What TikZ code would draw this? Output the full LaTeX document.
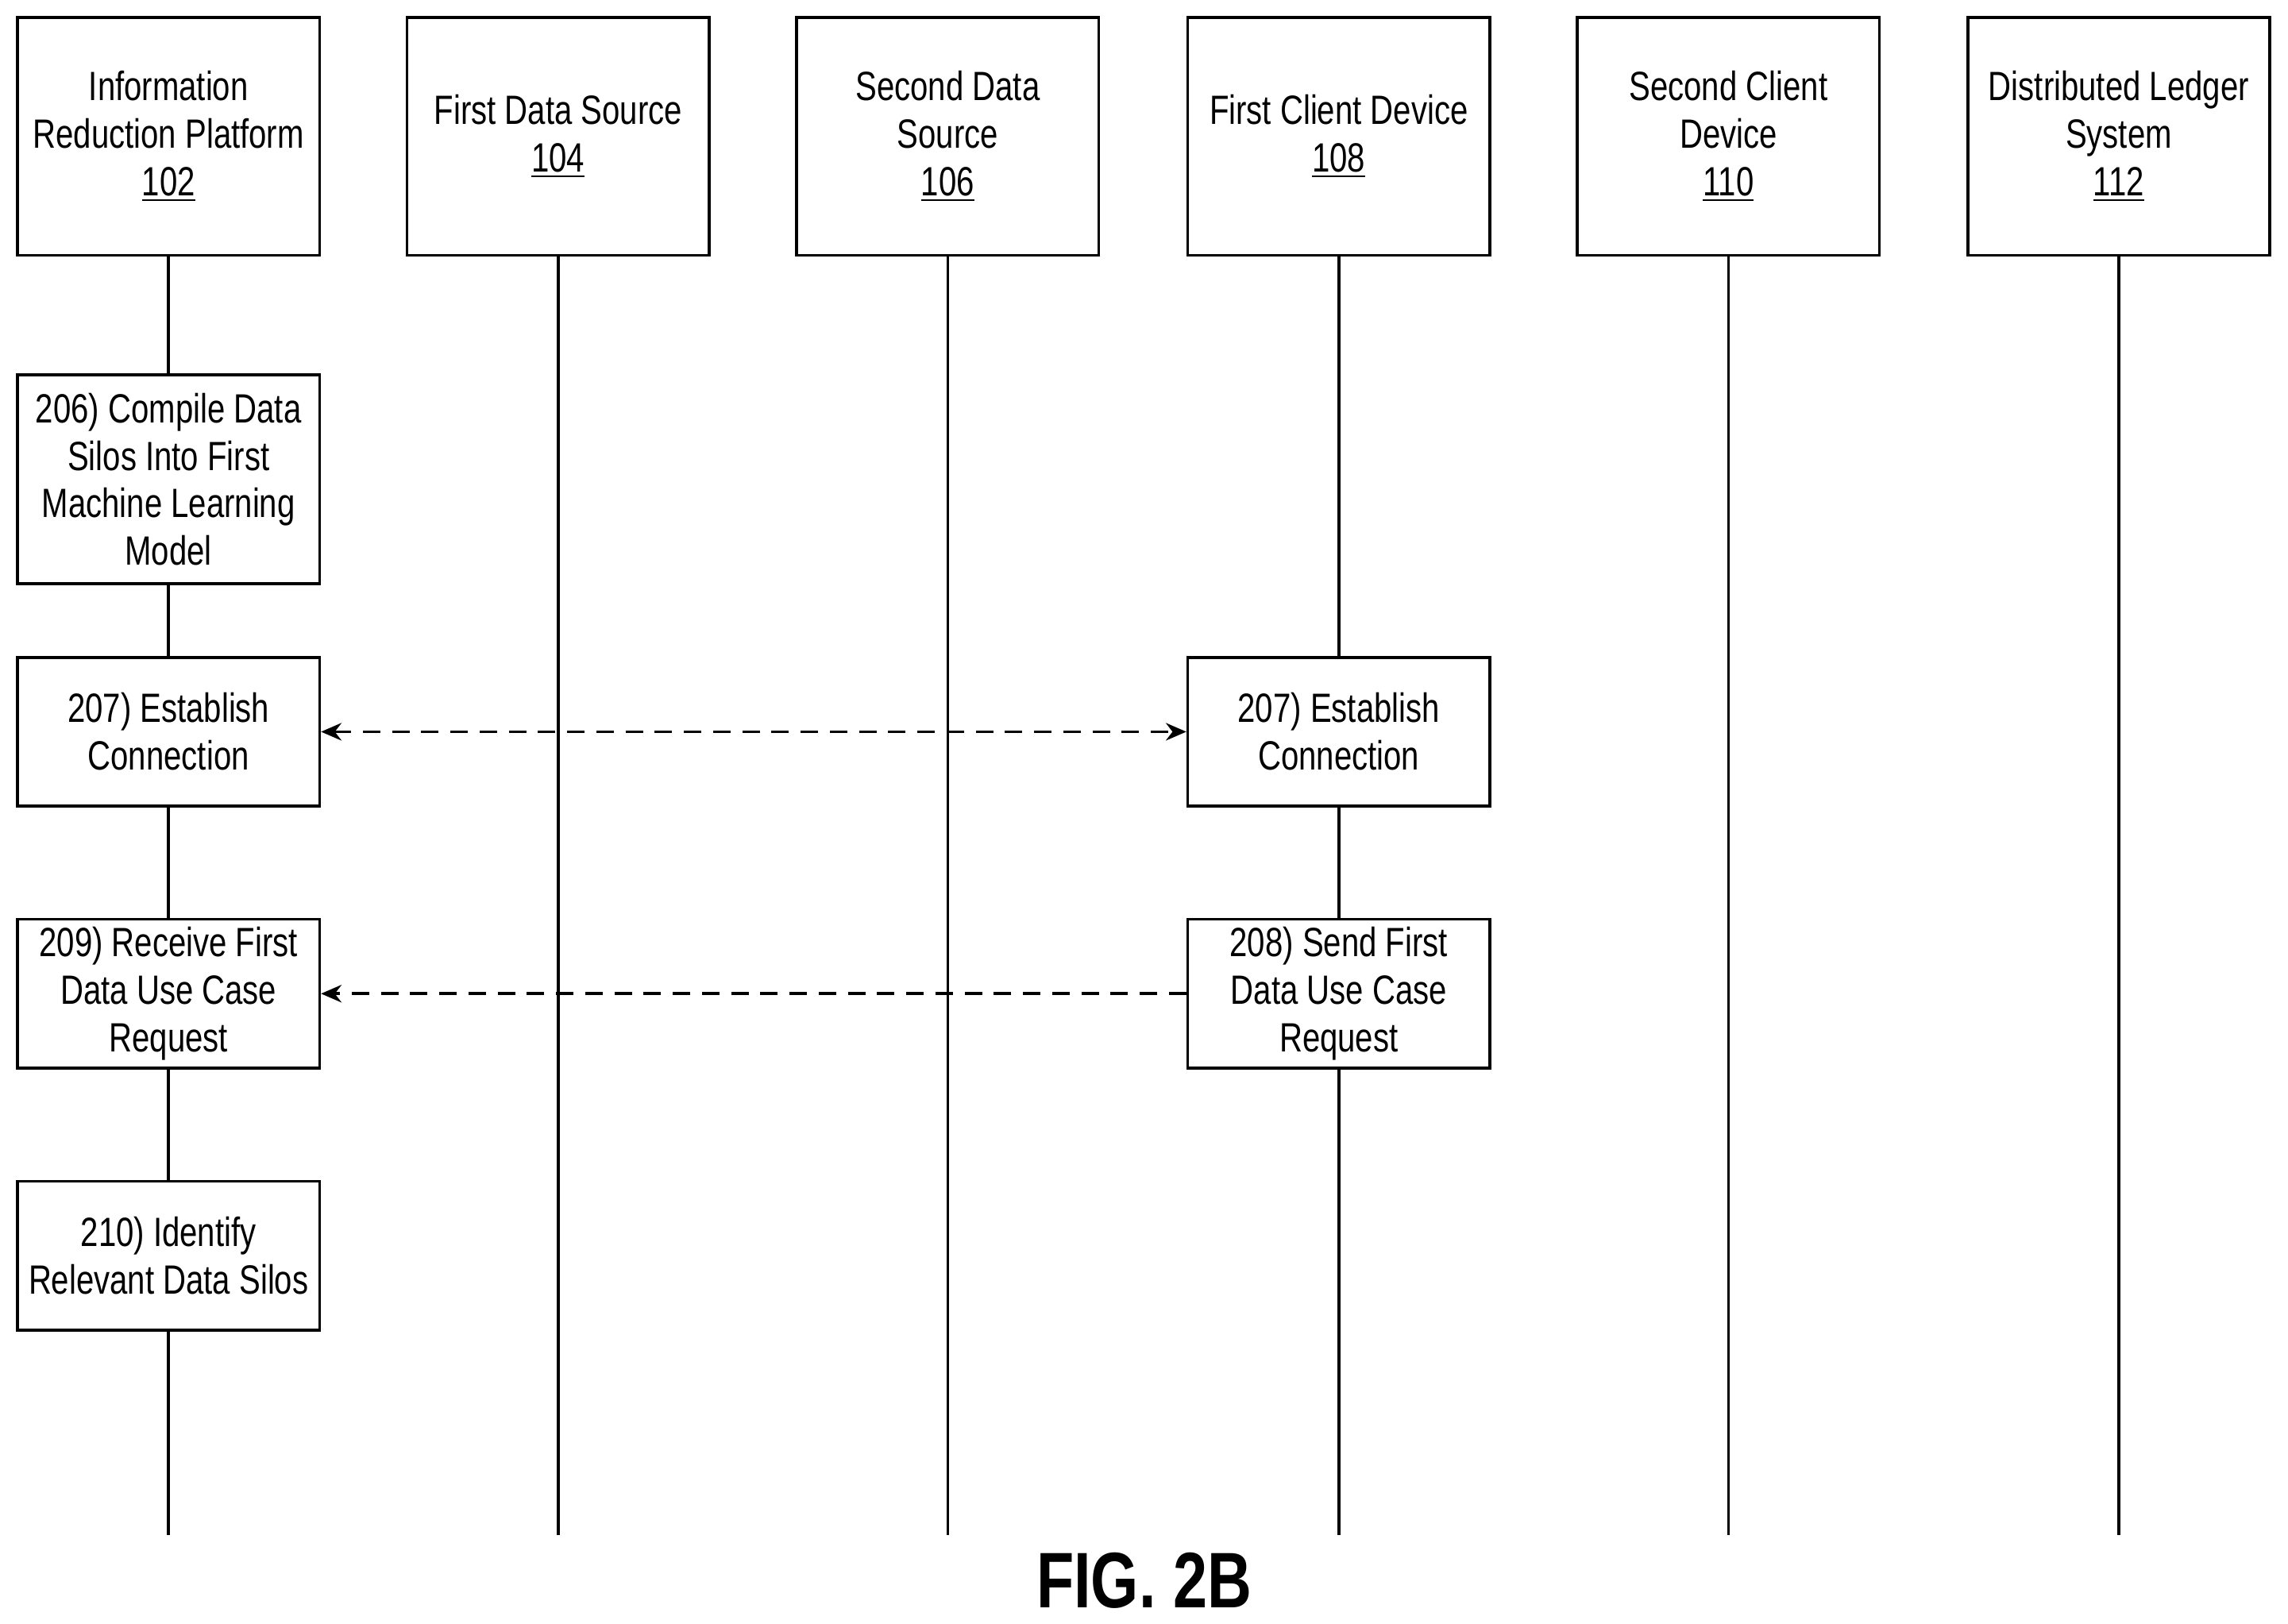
\documentclass[tikz,border=0pt]{standalone}
\usepackage{fontspec}
\setmainfont[FakeStretch=0.78]{Liberation Sans}
\usetikzlibrary{arrows.meta}
\tikzset{
  actor/.style={draw=black,fill=white,line width=1pt,minimum width=103.5pt,align=center,
    font=\fontsize{14}{16.3}\selectfont,inner sep=0pt},
  msg/.style={dashed,dash pattern=on 6pt off 4pt,line width=1pt,-{Stealth[length=7pt,width=6pt]}},
  life/.style={line width=1pt}
}
\begin{document}
\begin{tikzpicture}[x=0.5pt,y=-0.5pt]
\fill[white] (0,0) rectangle (1568,1113);
% Drawing lifelines
\foreach \cx/\nm in {115.5/a,382.5/b,649.5/c,917.5/d,1184.5/e,1452/f}{
  \coordinate (top\nm) at (\cx,175);
  \coordinate (bot\nm) at (\cx,1052);
  \draw[life] (top\nm) -- (bot\nm);
}
% Header boxes
\node[actor,minimum height=81.5pt] (platform) at (115.5,93.5) {Information\\Reduction Platform\\\underline{102}};
\node[actor,minimum height=81.5pt] (source1) at (382.5,93.5) {First Data Source\\\underline{104}};
\node[actor,minimum height=81.5pt] (source2) at (649.5,93.5) {Second Data\\Source\\\underline{106}};
\node[actor,minimum height=81.5pt] (client1) at (917.5,93.5) {First Client Device\\\underline{108}};
\node[actor,minimum height=81.5pt] (client2) at (1184.5,93.5) {Second Client\\Device\\\underline{110}};
\node[actor,minimum height=81.5pt] (ledger) at (1452,93.5) {Distributed Ledger\\System\\\underline{112}};
% Step boxes
\node[actor,minimum height=71.5pt] (compile) at (115.5,328.5) {206) Compile Data\\Silos Into First\\Machine Learning\\Model};
\node[actor,minimum height=51pt] (connA) at (115.5,501.5) {207) Establish\\Connection};
\node[actor,minimum height=51pt] (connB) at (917.5,501.5) {207) Establish\\Connection};
\node[actor,minimum height=51pt] (receive) at (115.5,681) {209) Receive First\\Data Use Case\\Request};
\node[actor,minimum height=51pt] (send) at (917.5,681) {208) Send First\\Data Use Case\\Request};
\node[actor,minimum height=51pt] (identify) at (115.5,860.5) {210) Identify\\Relevant Data Silos};
% Messages
\draw[msg,{Stealth[length=7pt,width=6pt]}-{Stealth[length=7pt,width=6pt]}] (connA) -- (connB);
\draw[msg] (send) -- (receive);
% Caption
\node[font=\fontsize{27}{30}\bfseries\selectfont] (fig) at (784,1083) {FIG. 2B};
\end{tikzpicture}
\end{document}
